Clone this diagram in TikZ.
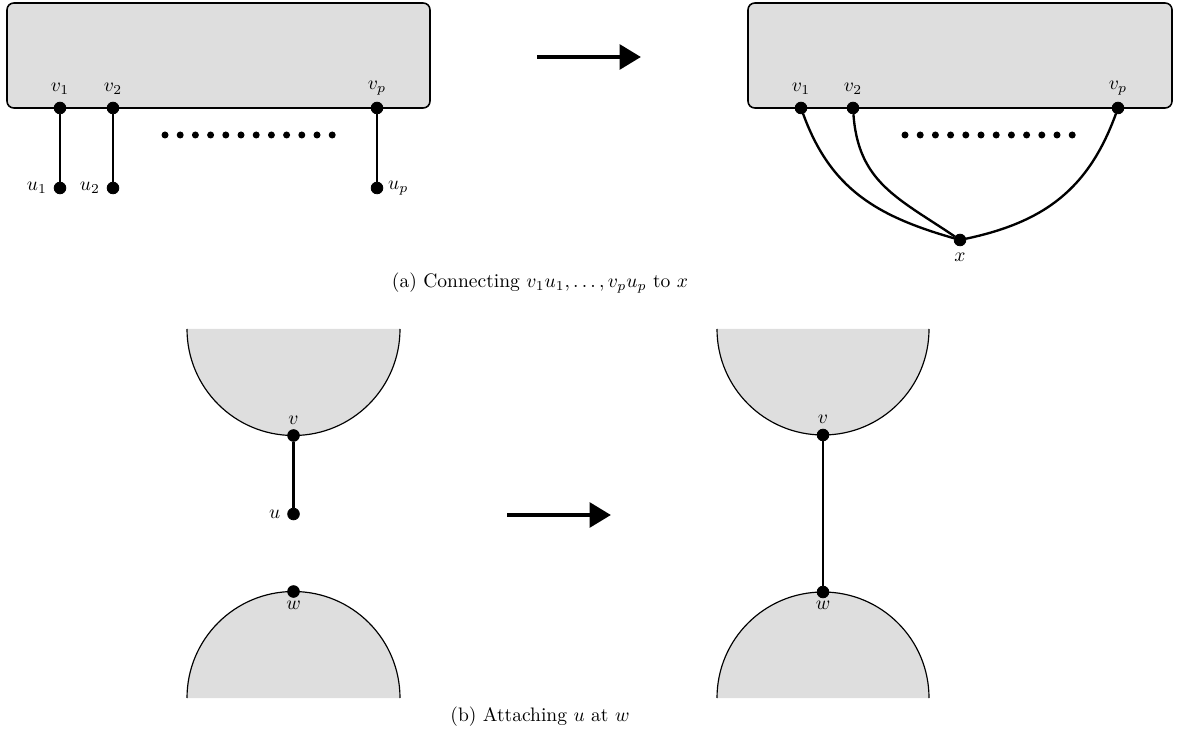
\documentclass[tikz,border=0pt]{standalone}
\usepackage{amsmath}
\usepackage{amssymb}
\usepackage{tikz}
\usetikzlibrary{arrows.meta,positioning,calc}

\begin{document}
\begin{tikzpicture}[x=0.018cm,y=-0.018cm,
vert/.style={draw,shape=circle,fill=black,inner sep=0pt,minimum size=6pt},
blob/.style={draw=black,thick,fill=black!13,rounded corners=3.5pt},
edge/.style={very thick},
bigarrow/.style={line width=2.5pt,-{Triangle[length=11pt,width=12.5pt]}}]
\useasboundingbox (0,0) rectangle (1181,739);
% (a) left: pendant edges
\draw[blob] (7,3) rectangle (430,108);
\node[vert,label=above:$v_1$] (v1L) at (60,108) {};
\node[vert,label=above:$v_2$] (v2L) at (113,108) {};
\node[vert,label=above:$v_p$] (vpL) at (377,108) {};
\node[vert,label=left:$u_1$] (u1L) at (60,188) {};
\node[vert,label=left:$u_2$] (u2L) at (113,188) {};
\node[vert,label={[label distance=-1pt]right:$u_p$}] (upL) at (377,188) {};
\draw[edge] (v1L)--(u1L);
\draw[edge] (v2L)--(u2L);
\draw[edge] (vpL)--(upL);
\foreach \i in {0,...,11} \fill (165+\i*15.2,135) circle (3.5);
% arrow
\coordinate (aL) at (537,57);
\coordinate (aR) at (641,57);
\draw[bigarrow] (aL)--(aR);
% (a) right: all joined at x
\draw[blob] (748,3) rectangle (1172,108);
\node[vert,label=above:$v_1$] (v1R) at (801,108) {};
\node[vert,label=above:$v_2$] (v2R) at (853,108) {};
\node[vert,label=above:$v_p$] (vpR) at (1118,108) {};
\node[vert,label=below:$x$] (xR) at (960,240) {};
\draw[edge] (v1R) to[out=-70,in=164,looseness=1.05] (xR);
\draw[edge] (v2R) to[out=-86,in=146,looseness=1.1] (xR);
\draw[edge] (vpR) to[out=-110,in=12,looseness=1.05] (xR);
\foreach \i in {0,...,11} \fill (905+\i*15.2,135) circle (3.5);
\node (capA) at (540,283) {(a) Connecting $v_1u_1,\ldots,v_pu_p$ to $x$};
% (b) left
\fill[black!13] (187,329) arc[start angle=180,end angle=0,radius=106.5];
\draw[semithick] (187,329) arc[start angle=180,end angle=0,radius=106.5];
\fill[black!13] (187,698) arc[start angle=180,end angle=360,radius=106.5];
\draw[semithick] (187,698) arc[start angle=180,end angle=360,radius=106.5];
\node[vert,label={[label distance=-1pt]above:$v$}] (vL) at (293.5,435.5) {};
\node[vert,label=left:$u$] (uL) at (293.5,514) {};
\node[vert,label={[label distance=-2pt]below:$w$}] (wL) at (293.5,591.5) {};
\draw[edge] (vL)--(uL);
% arrow
\coordinate (bL) at (507,515);
\coordinate (bR) at (611,515);
\draw[bigarrow] (bL)--(bR);
% (b) right
\fill[black!13] (717,329) arc[start angle=180,end angle=0,radius=106];
\draw[semithick] (717,329) arc[start angle=180,end angle=0,radius=106];
\fill[black!13] (717,698) arc[start angle=180,end angle=360,radius=106];
\draw[semithick] (717,698) arc[start angle=180,end angle=360,radius=106];
\node[vert,label={[label distance=-1pt]above:$v$}] (vR) at (823,435) {};
\node[vert,label={[label distance=-2pt]below:$w$}] (wR) at (823,592) {};
\draw[edge] (vR)--(wR);
\node (capB) at (540,717) {(b) Attaching $u$ at $w$};
\end{tikzpicture}
\end{document}
